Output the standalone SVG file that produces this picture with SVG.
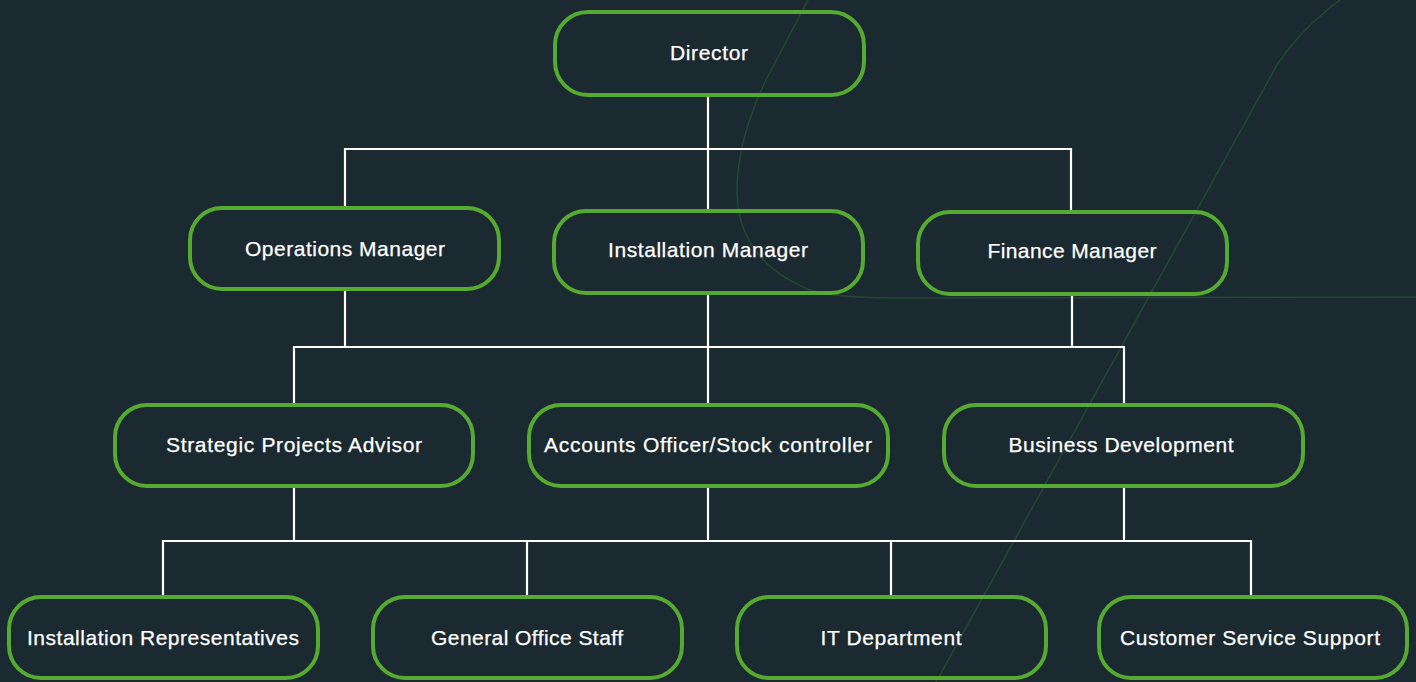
<svg xmlns="http://www.w3.org/2000/svg" width="1416" height="682" viewBox="0 0 1416 682">
<style>
.bg{fill:#1b2a31}
.deco{fill:none;stroke:#254535;stroke-width:1.5}
.node rect{fill:none;stroke:#56aa32;stroke-width:4}
.node text{fill:#ffffff;font-family:"Liberation Sans",Arial,sans-serif;font-size:21px;text-anchor:middle;stroke:#ffffff;stroke-width:0.25}
#connectors path{fill:none;stroke:#ffffff;stroke-width:2.2}
</style>
<rect class="bg" x="0" y="0" width="1416" height="682"/>
<g id="decoration">
<path class="deco" d="M808 0 L768 76 Q736 140 737 195 Q740 262 810 290 Q835 298 900 298 L1416 297"/>
<path class="deco" d="M1340 0 Q1300 30 1277 65 L936 682"/>
</g>
<g id="connectors">
<path d="M708 97 V209"/>
<path d="M345 206 V149 H1071 V210"/>
<path d="M345 291 V347"/>
<path d="M708 294 V403"/>
<path d="M1072 296 V347"/>
<path d="M294 403 V347 H1124 V403"/>
<path d="M294 488 V541"/>
<path d="M708 488 V541"/>
<path d="M1124 488 V541"/>
<path d="M163 595 V541 H1251 V595"/>
<path d="M527 541 V595"/>
<path d="M891 541 V595"/>
</g>
<g id="director" class="node"><rect x="555" y="12" width="309" height="83" rx="33"/><text x="709" y="60" textLength="78" lengthAdjust="spacing">Director</text></g>
<g id="operations-manager" class="node"><rect x="190" y="208" width="309" height="81" rx="32"/><text x="345" y="256" textLength="200" lengthAdjust="spacing">Operations Manager</text></g>
<g id="installation-manager" class="node"><rect x="554" y="211" width="309" height="82" rx="32"/><text x="708" y="257" textLength="200" lengthAdjust="spacing">Installation Manager</text></g>
<g id="finance-manager" class="node"><rect x="918" y="212" width="309" height="82" rx="32"/><text x="1072" y="258" textLength="169" lengthAdjust="spacing">Finance Manager</text></g>
<g id="strategic-projects-advisor" class="node"><rect x="115" y="405" width="358" height="81" rx="32"/><text x="294" y="452" textLength="256" lengthAdjust="spacing">Strategic Projects Advisor</text></g>
<g id="accounts-officer" class="node"><rect x="529" y="405" width="359" height="81" rx="32"/><text x="708" y="452" textLength="328" lengthAdjust="spacing">Accounts Officer/Stock controller</text></g>
<g id="business-development" class="node"><rect x="944" y="405" width="359" height="81" rx="32"/><text x="1121" y="452" textLength="225" lengthAdjust="spacing">Business Development</text></g>
<g id="installation-representatives" class="node"><rect x="9" y="597" width="309" height="81" rx="32"/><text x="163" y="645" textLength="272" lengthAdjust="spacing">Installation Representatives</text></g>
<g id="general-office-staff" class="node"><rect x="373" y="597" width="309" height="81" rx="32"/><text x="527" y="645" textLength="192" lengthAdjust="spacing">General Office Staff</text></g>
<g id="it-department" class="node"><rect x="737" y="597" width="309" height="81" rx="32"/><text x="891" y="645" textLength="141" lengthAdjust="spacing">IT Department</text></g>
<g id="customer-service-support" class="node"><rect x="1099" y="597" width="308" height="81" rx="32"/><text x="1250" y="645" textLength="260" lengthAdjust="spacing">Customer Service Support</text></g>
</svg>
